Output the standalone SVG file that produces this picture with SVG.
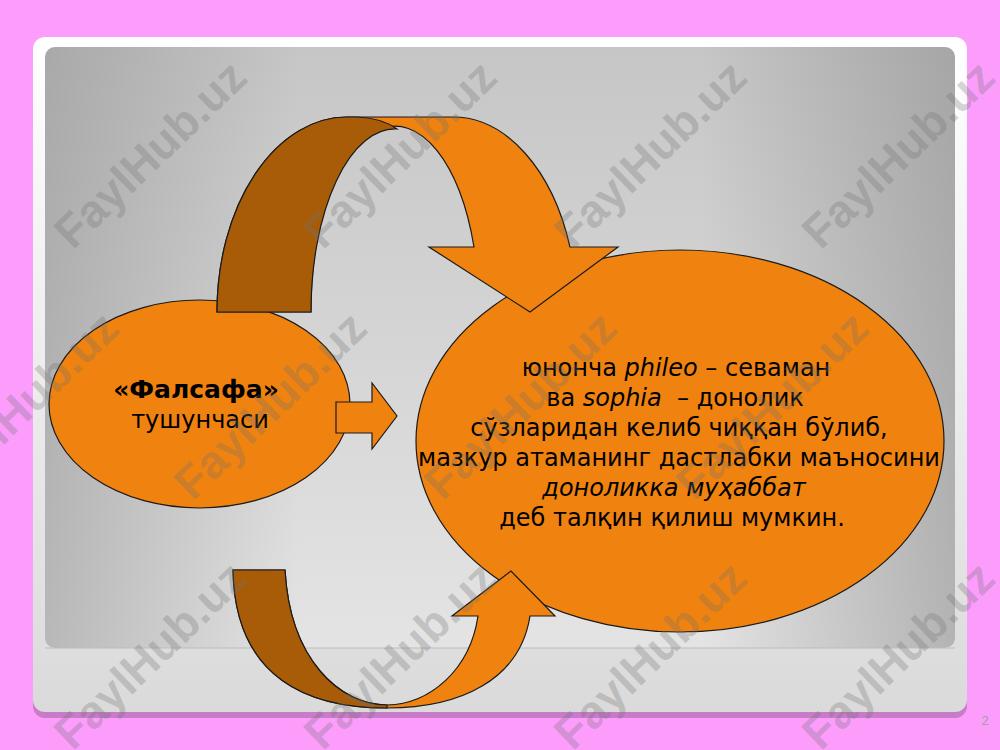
<svg xmlns="http://www.w3.org/2000/svg" width="1000" height="750" viewBox="0 0 1000 750">
  <defs>
    <linearGradient id="panelGrad" x1="0" y1="0" x2="0" y2="1">
      <stop offset="0" stop-color="#FFFFFF"/>
      <stop offset="1" stop-color="#DADADA"/>
    </linearGradient>
    <linearGradient id="slideV" x1="0" y1="0" x2="0" y2="1">
      <stop offset="0" stop-color="#C6C6C6"/>
      <stop offset="0.6" stop-color="#D8D8D8"/>
      <stop offset="1" stop-color="#E4E4E4"/>
    </linearGradient>
    <linearGradient id="slideH" x1="0" y1="0" x2="1" y2="0">
      <stop offset="0" stop-color="#8C8C8C" stop-opacity="0.5"/>
      <stop offset="0.28" stop-color="#8C8C8C" stop-opacity="0"/>
      <stop offset="0.72" stop-color="#8C8C8C" stop-opacity="0"/>
      <stop offset="1" stop-color="#8C8C8C" stop-opacity="0.55"/>
    </linearGradient>
    <style>
      .orange { fill: #F0830F; stroke: #1A1A1A; stroke-width: 1.2; stroke-linejoin: miter; }
      .dark { fill: #A85C08; stroke: #1A1A1A; stroke-width: 1.2; }
      .txt { font-family: "DejaVu Sans", Verdana, sans-serif; fill: #000; text-anchor: middle; }
      .wm { font-family: "Liberation Sans", Arial, sans-serif; font-weight: bold; font-size: 46px; fill: #707070; fill-opacity: 0.3; text-anchor: middle; dominant-baseline: central; }
    </style>
  </defs>

  <!-- background -->
  <rect x="0" y="0" width="1000" height="750" fill="#FC9DFC"/>
  <rect x="33" y="43" width="934" height="675" rx="12" fill="#C77BC9"/>
  <rect x="33" y="37" width="934" height="675" rx="12" fill="url(#panelGrad)"/>
  <rect x="45" y="47" width="910" height="601" rx="10" fill="url(#slideV)"/>
  <rect x="45" y="47" width="910" height="601" rx="10" fill="url(#slideH)"/>
  <line x1="45" y1="648" x2="955" y2="648" stroke="#BDBDBD" stroke-width="1"/>

  <!-- nodes -->
  <g id="node-falsafa">
    <ellipse class="orange" cx="199.5" cy="404" rx="150.5" ry="104"/>
  </g>
  <g id="node-meaning">
    <ellipse class="orange" cx="680" cy="441" rx="264" ry="191"/>
  </g>

  <!-- connectors -->
  <g id="connectors">
    <g id="arrow-top">
      <path class="orange" d="M217,312 A130,195 0 0 1 347,117 L453,117 A124,195 0 0 1 570,247 L618,247 L530,312 L429,247 L474,247 A84,183 0 0 0 311,312 Z"/>
      <path class="dark" d="M217,312 A130,195 0 0 1 347,117 L357,117 Q382,118 397,129 A84,183 0 0 0 311,312 Z"/>
    </g>
    <g id="arrow-bottom">
      <path class="orange" d="M233,570 C235,680 310,708 387,708 C460,708 520,680 530,616 L555,616 L511,571 L452,616 L478,616 C470,670 430,704 387,705 C340,705 290,660 285,570 Z"/>
      <path class="dark" d="M233,570 C235,680 310,708 387,708 L387,705 C340,705 290,660 285,570 Z"/>
    </g>
    <g id="arrow-right">
      <path class="orange" d="M336,402 L372,402 L372,383 L397,416 L372,449 L372,433 L336,433 Z"/>
    </g>
  </g>

  <!-- texts -->
  <g id="label-falsafa">
    <text class="txt" x="196" y="398" font-size="25" font-weight="bold">«Фалсафа»</text>
    <text class="txt" x="200" y="428" font-size="24">тушунчаси</text>
  </g>
  <g id="label-meaning" font-size="24">
    <text class="txt" x="676" y="376">юнонча <tspan font-style="italic">phileo</tspan> – севаман</text>
    <text class="txt" x="675" y="406" xml:space="preserve">ва <tspan font-style="italic">sophia</tspan>  – донолик</text>
    <text class="txt" x="679" y="436">сўзларидан келиб чиққан бўлиб,</text>
    <text class="txt" x="679" y="466">мазкур атаманинг дастлабки маъносини</text>
    <text class="txt" x="674" y="496" font-style="italic">доноликка муҳаббат</text>
    <text class="txt" x="672" y="526">деб талқин қилиш мумкин.</text>
  </g>

  <!-- page number -->
  <text x="985" y="725" font-family="Liberation Sans, Arial, sans-serif" font-size="13" fill="#A0A0A0" text-anchor="middle">2</text>

  <!-- watermarks -->
  <g id="watermarks">
    <text class="wm" transform="translate(150,154) rotate(-44)">FaylHub.uz</text>
    <text class="wm" transform="translate(400,154) rotate(-44)">FaylHub.uz</text>
    <text class="wm" transform="translate(650,154) rotate(-44)">FaylHub.uz</text>
    <text class="wm" transform="translate(898,154) rotate(-44)">FaylHub.uz</text>
    <text class="wm" transform="translate(22,405) rotate(-44)">FaylHub.uz</text>
    <text class="wm" transform="translate(270,405) rotate(-44)">FaylHub.uz</text>
    <text class="wm" transform="translate(520,405) rotate(-44)">FaylHub.uz</text>
    <text class="wm" transform="translate(772,405) rotate(-44)">FaylHub.uz</text>
    <text class="wm" transform="translate(150,655) rotate(-44)">FaylHub.uz</text>
    <text class="wm" transform="translate(400,655) rotate(-44)">FaylHub.uz</text>
    <text class="wm" transform="translate(650,655) rotate(-44)">FaylHub.uz</text>
    <text class="wm" transform="translate(898,655) rotate(-44)">FaylHub.uz</text>
  </g>
</svg>
